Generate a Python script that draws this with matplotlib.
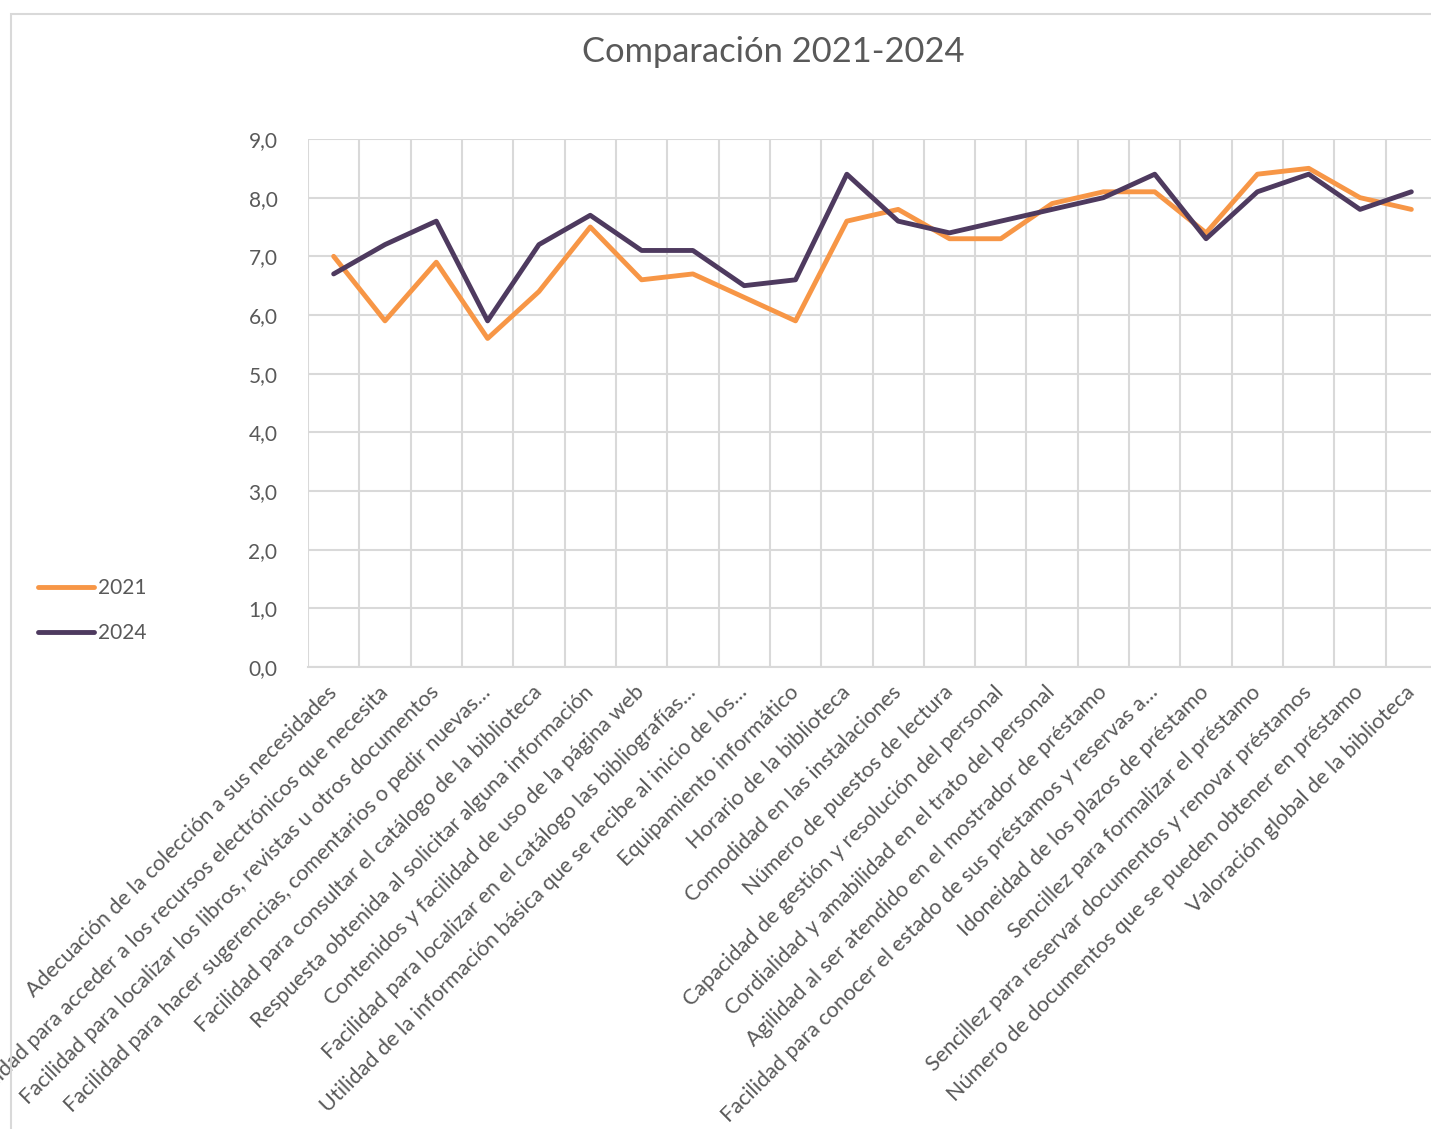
import matplotlib
matplotlib.use("Agg")
import matplotlib.pyplot as plt
from matplotlib.patches import Rectangle

plt.rcParams['font.family'] = ['Lato', 'DejaVu Sans']

# preguntas de la encuesta (textos tal como aparecen, algunos recortados)
categorias = [
    "Adecuación de la colección a sus necesidades",
    "Facilidad para acceder a los recursos electrónicos que necesita",
    "Facilidad para localizar los libros, revistas u otros documentos",
    "Facilidad para hacer sugerencias, comentarios o pedir nuevas…",
    "Facilidad para consultar el catálogo de la biblioteca",
    "Respuesta obtenida al solicitar alguna información",
    "Contenidos y facilidad de uso de la página web",
    "Facilidad para localizar en el catálogo las bibliografías…",
    "Utilidad de la información básica que se recibe al inicio de los…",
    "Equipamiento informático",
    "Horario de la biblioteca",
    "Comodidad en las instalaciones",
    "Número de puestos de lectura",
    "Capacidad de gestión y resolución del personal",
    "Cordialidad y amabilidad en el trato del personal",
    "Agilidad al ser atendido en el mostrador de préstamo",
    "Facilidad para conocer el estado de sus préstamos y reservas a…",
    "Idoneidad de los plazos de préstamo",
    "Sencillez para formalizar el préstamo",
    "Sencillez para reservar documentos y renovar préstamos",
    "Número de documentos que se pueden obtener en préstamo",
    "Valoración global de la biblioteca",
]

valores_2021 = [7.0, 5.9, 6.9, 5.6, 6.4, 7.5, 6.6, 6.7, 6.3, 5.9, 7.6,
                7.8, 7.3, 7.3, 7.9, 8.1, 8.1, 7.4, 8.4, 8.5, 8.0, 7.8]
valores_2024 = [6.7, 7.2, 7.6, 5.9, 7.2, 7.7, 7.1, 7.1, 6.5, 6.6, 8.4,
                7.6, 7.4, 7.6, 7.8, 8.0, 8.4, 7.3, 8.1, 8.4, 7.8, 8.1]

yticks = [0, 1, 2, 3, 4, 5, 6, 7, 8, 9]

W, H = 1431, 1129
fig = plt.figure(figsize=(W / 100, H / 100), dpi=100)

# marco del gráfico (estilo Excel)
fig.patches.append(Rectangle((11 / W, -0.1), 1.2, 1 - 14 / H + 0.1, transform=fig.transFigure,
                             fill=False, edgecolor='#D9D9D9', linewidth=1.5))

# ejes colocados en píxeles del original
x0, x1 = 308, 1437
y0, y1 = 667, 139
ax = fig.add_axes([x0 / W, 1 - y0 / H, (x1 - x0) / W, (y0 - y1) / H])

gris = '#595959'
xs = list(range(len(categorias)))
ax.plot(xs, valores_2021, color='#F79646', lw=3.5, solid_capstyle='round',
        solid_joinstyle='round', label='2021', zorder=3)
ax.plot(xs, valores_2024, color='#4E3A5F', lw=3.5, solid_capstyle='round',
        solid_joinstyle='round', label='2024', zorder=4)

ax.set_xlim(-0.5, len(categorias) - 0.5)
ax.set_ylim(0, 9)
ax.set_yticks(yticks)
ax.set_yticklabels([f"{v:.1f}".replace('.', ',') for v in yticks], fontsize=15, color=gris)

# rejilla vertical entre categorías
ax.set_xticks([i - 0.5 for i in range(len(categorias) + 1)], minor=True)
ax.grid(True, which='minor', axis='x', color='#D9D9D9', lw=1.5)
ax.grid(True, which='major', axis='y', color='#D9D9D9', lw=1.5)
ax.set_axisbelow(True)
ax.set_xticks(xs)
ax.set_xticklabels(categorias, rotation=45, ha='right', va='center',
                   rotation_mode='anchor', fontsize=15.6, color=gris)
ax.tick_params(axis='both', which='both', length=0)
ax.tick_params(axis='x', pad=16)
ax.tick_params(axis='y', pad=22)
for lado in ['top', 'right', 'left']:
    ax.spines[lado].set_visible(False)
ax.spines['bottom'].set_color('#D9D9D9')
ax.spines['bottom'].set_linewidth(1.5)

fig.text(773 / W, 1 - 52 / H, "Comparación 2021-2024", ha='center', va='center',
         fontsize=24.8, color=gris)

fig.legend(loc='center left', bbox_to_anchor=(38 / W, 1 - 611 / H), frameon=False,
           fontsize=15, handlelength=2.7, handletextpad=0.2, labelspacing=1.2,
           borderpad=0, borderaxespad=0, labelcolor=gris)

fig.savefig("out.png", dpi=100)
